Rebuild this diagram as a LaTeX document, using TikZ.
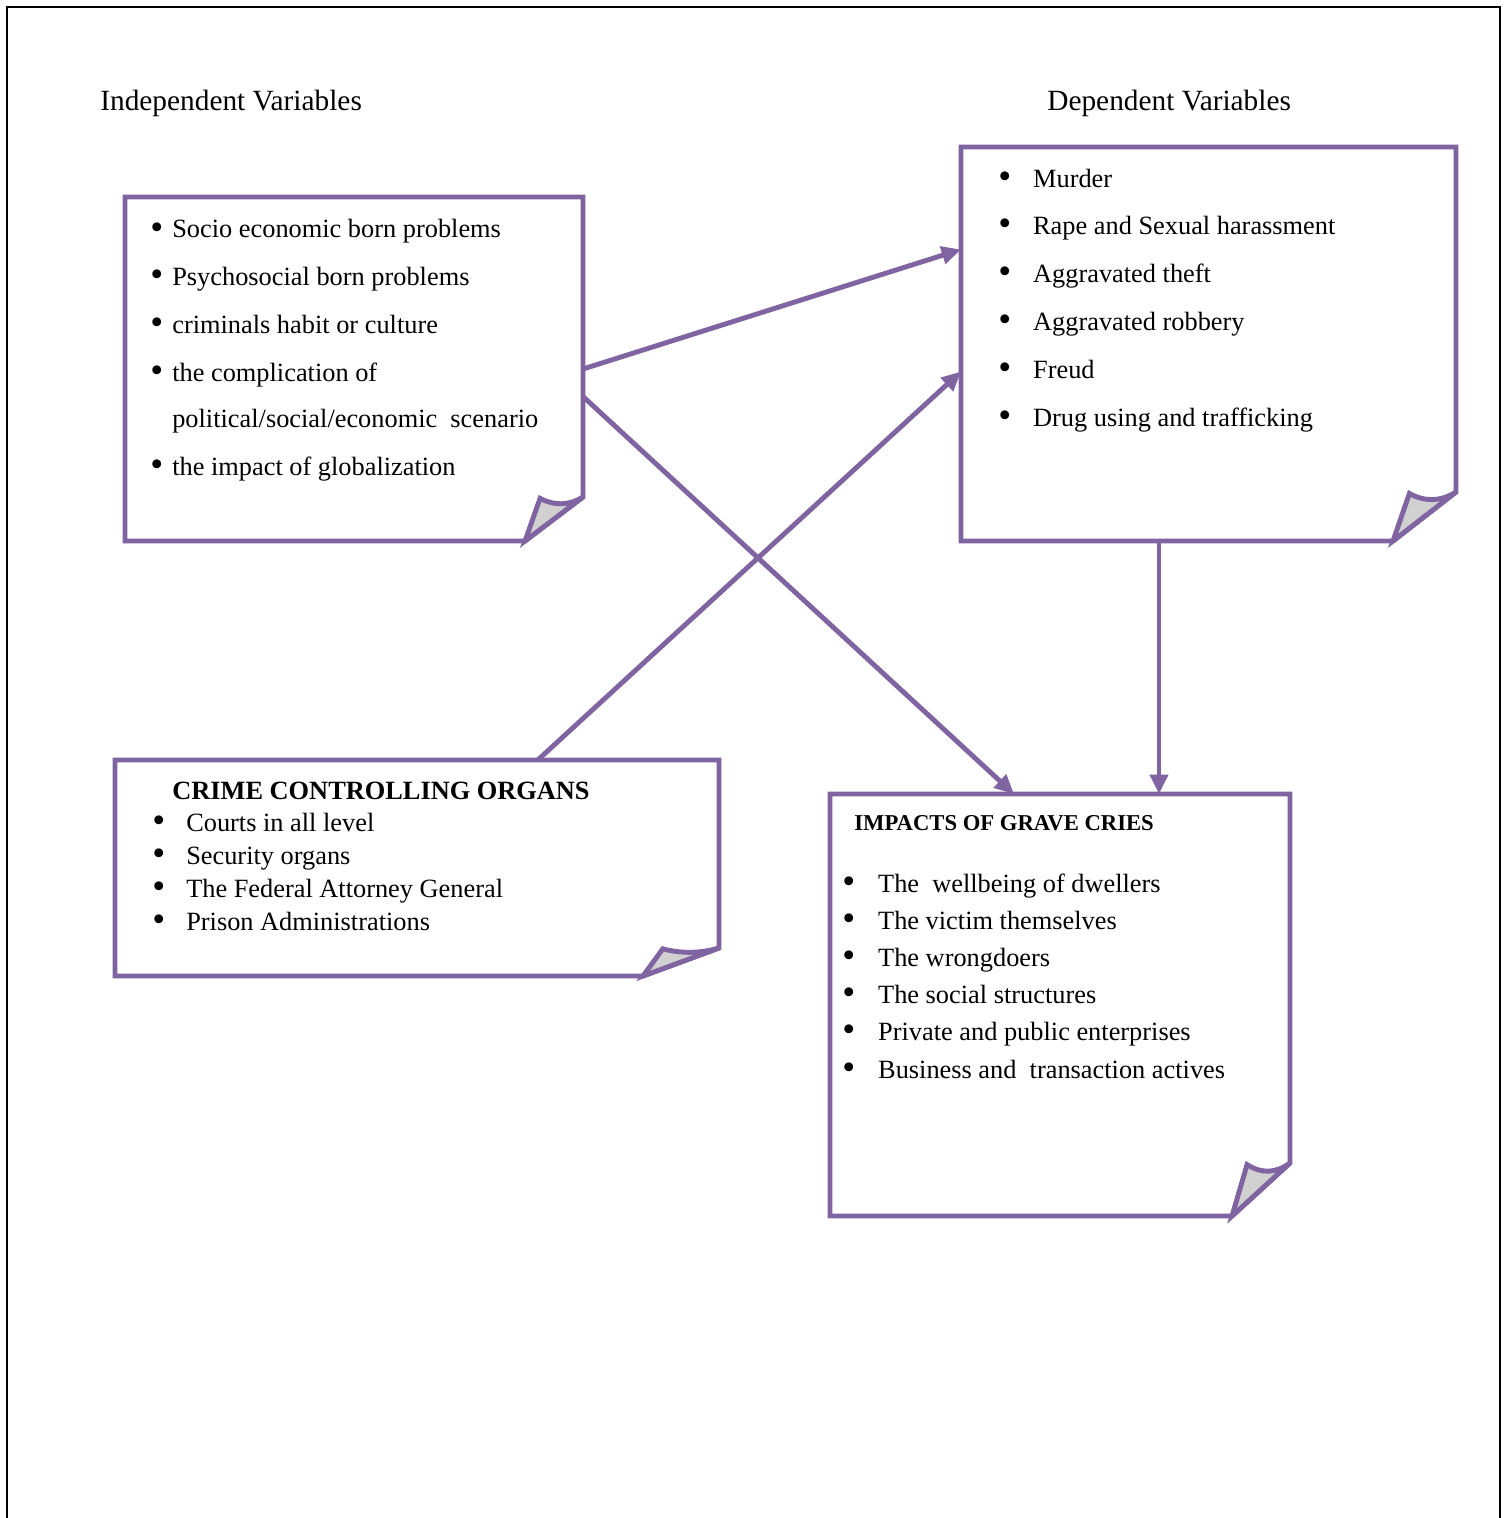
\documentclass[tikz,border=0pt]{standalone}
\usepackage{fontspec}
\usepackage{graphicx}
\setmainfont{Liberation Serif}
\usetikzlibrary{calc,fit,arrows.meta}
\definecolor{notepurple}{HTML}{8064A2}
\definecolor{foldgray}{HTML}{D0D0D0}
\newcommand\bul[1]{\makebox[#1][l]{\raisebox{-0.6pt}{\scalebox{1.4}{\textbullet}}}}
% folded note drawn round a fitted node: name, fold width, fold height
\newcommand\notebox[3]{%
  \draw[noteline] (#1.north west) -- (#1.north east) -- ($(#1.south east)+(0,-#3)$)
    -- ($(#1.south east)+(-#2,0)$) -- (#1.south west) -- cycle;
  \draw[noteline, fill=foldgray] ($(#1.south east)+(0,-#3)$)
    .. controls ($(#1.south east)+(-0.25*#2,-0.8*#3)$) and ($(#1.south east)+(-0.5*#2,-0.8*#3)$)
    .. ($(#1.south east)+(-0.74*#2,-0.97*#3)$) -- ($(#1.south east)+(-#2,0)$) -- cycle;}

\begin{document}
\begin{tikzpicture}[x=0.02cm, y=-0.02cm,
    noteline/.style={draw=notepurple, line width=2.8pt},
    link/.style={notepurple, line width=2.8pt, -{Triangle[length=11pt,width=10pt]}},
    area/.style={inner sep=0pt, outer sep=0pt},
    listtext/.style={anchor=base west, align=left, inner sep=0pt},
    heading/.style={anchor=base west, inner sep=0pt, font=\fontsize{16.7}{20}\selectfont}]
  \useasboundingbox (0,0) rectangle (1506,1518);

  % page frame
  \draw[line width=1.1pt] (7,1518) -- (7,7) -- (1500,7) -- (1500,1518);

  \node[heading] (ivhead) at (100,110) {Independent Variables};
  \node[heading] (dvhead) at (1047,110) {Dependent Variables};

  % note areas
  \node[area, fit={(125,197) (583,541)}] (indep) {};
  \node[area, fit={(961,147) (1456,541)}] (dep) {};
  \node[area, fit={(115,760) (719,976)}] (crime) {};
  \node[area, fit={(830,794) (1290,1216)}] (impacts) {};

  \notebox{indep}{58}{44}
  \notebox{dep}{63}{49}
  \notebox{crime}{76}{28}
  \notebox{impacts}{58}{53}

  % texts (placed by the baseline of the last line)
  \node[listtext, font=\fontsize{15}{27.2}\selectfont] (indeplist) at (150,475) {%
    \bul{12.5pt}Socio economic born problems\\
    \bul{12.5pt}Psychosocial born problems\\
    \bul{12.5pt}criminals habit or culture\\
    \bul{12.5pt}the complication of\\[-1.1pt]
    \hspace*{12.5pt}political/social/economic\ \ scenario\\
    \bul{12.5pt}the impact of globalization};

  \node[listtext, font=\fontsize{15}{27.2}\selectfont] (deplist) at (998,426) {%
    \bul{19.8pt}Murder\\
    \bul{19.8pt}Rape and Sexual harassment\\
    \bul{19.8pt}Aggravated theft\\
    \bul{19.8pt}Aggravated robbery\\
    \bul{19.8pt}Freud\\
    \bul{19.8pt}Drug using and trafficking};

  \node[listtext, font=\fontsize{15}{18}\bfseries] (crimehead) at (172,799) {CRIME CONTROLLING ORGANS};
  \node[listtext, font=\fontsize{15}{18.7}\selectfont] (crimelist) at (152,930) {%
    \bul{19.3pt}Courts in all level\\
    \bul{19.3pt}Security organs\\
    \bul{19.3pt}The Federal Attorney General\\
    \bul{19.3pt}Prison Administrations};

  \node[listtext, font=\fontsize{12.9}{15}\bfseries] (impacthead) at (854,830) {IMPACTS OF GRAVE CRIES};
  \node[listtext, font=\fontsize{15}{21.1}\selectfont] (impactlist) at (842,1078) {%
    \bul{20.4pt}The\ \ wellbeing of dwellers\\
    \bul{20.4pt}The victim themselves\\
    \bul{20.4pt}The wrongdoers\\
    \bul{20.4pt}The social structures\\
    \bul{20.4pt}Private and public enterprises\\
    \bul{20.4pt}Business and\ \ transaction actives};

  % connectors
  \draw[link] (indep.east) -- ($(dep.north west)!0.26!(dep.south west)$);
  \draw[link] ($(indep.north east)!0.58!(indep.south east)$) -- ($(impacts.north west)!0.4!(impacts.north east)$);
  \draw[link] ($(crime.north west)!0.7!(crime.north east)$) -- ($(dep.north west)!0.57!(dep.south west)$);
  \draw[link] ($(dep.south west)!0.4!(dep.south east)$) coordinate (depfoot) -- (depfoot |- impacts.north);
\end{tikzpicture}
\end{document}
